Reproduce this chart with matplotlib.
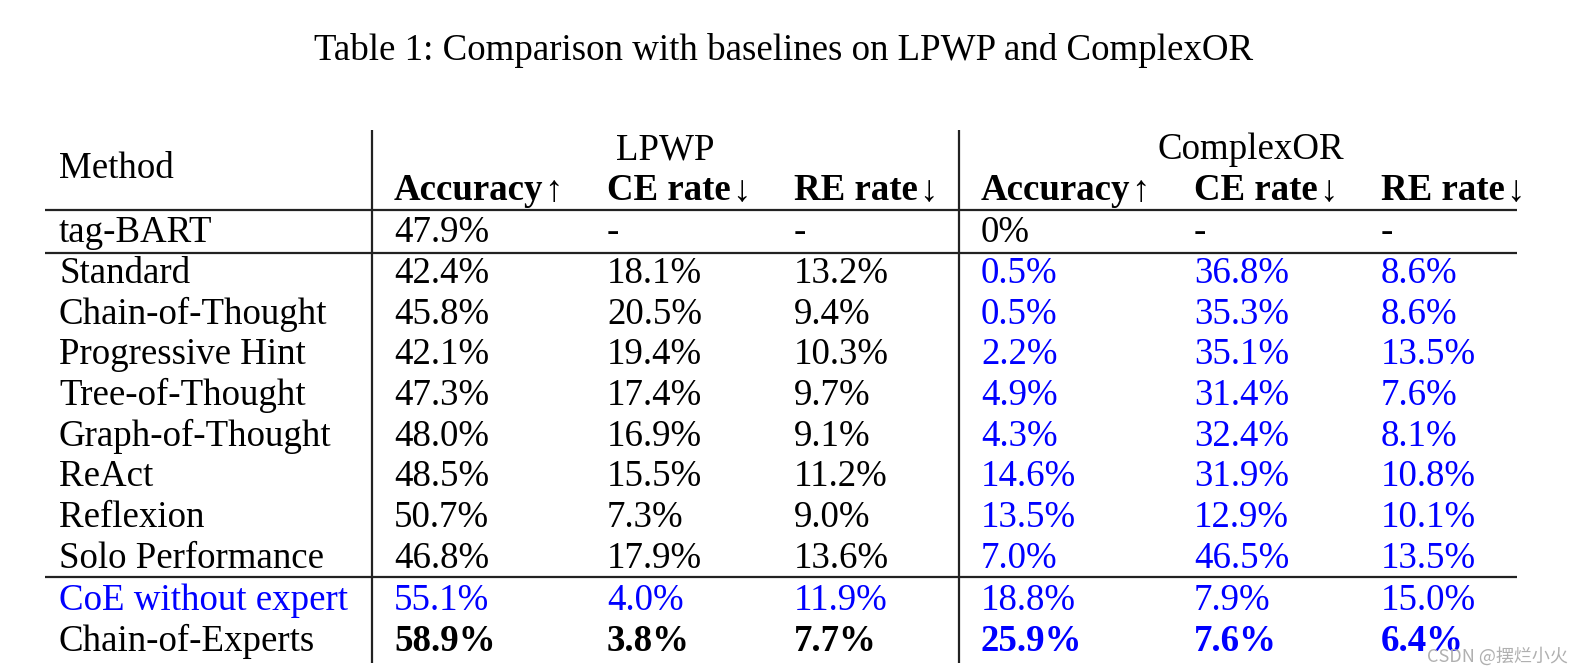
import matplotlib
matplotlib.use("Agg")
import matplotlib.pyplot as plt

# table contents
methods = ["tag-BART", "Standard", "Chain-of-Thought", "Progressive Hint",
           "Tree-of-Thought", "Graph-of-Thought", "ReAct", "Reflexion",
           "Solo Performance", "CoE without expert", "Chain-of-Experts"]
lpwp_acc = ["47.9%", "42.4%", "45.8%", "42.1%", "47.3%", "48.0%", "48.5%", "50.7%", "46.8%", "55.1%", "58.9%"]
lpwp_ce  = ["-", "18.1%", "20.5%", "19.4%", "17.4%", "16.9%", "15.5%", "7.3%", "17.9%", "4.0%", "3.8%"]
lpwp_re  = ["-", "13.2%", "9.4%", "10.3%", "9.7%", "9.1%", "11.2%", "9.0%", "13.6%", "11.9%", "7.7%"]
cor_acc  = ["0%", "0.5%", "0.5%", "2.2%", "4.9%", "4.3%", "14.6%", "13.5%", "7.0%", "18.8%", "25.9%"]
cor_ce   = ["-", "36.8%", "35.3%", "35.1%", "31.4%", "32.4%", "31.9%", "12.9%", "46.5%", "7.9%", "7.6%"]
cor_re   = ["-", "8.6%", "8.6%", "13.5%", "7.6%", "8.1%", "10.8%", "10.1%", "13.5%", "15.0%", "6.4%"]
groups = ["LPWP", "ComplexOR"]
metrics = ["Accuracy", "CE rate", "RE rate"]
arrows = ["\u2191", "\u2193", "\u2193"]

title = "Table 1: Comparison with baselines on LPWP and ComplexOR"
BLUE = "#0000ff"
SERIF = ["Liberation Serif", "DejaVu Serif"]
FS = 26.6

fig = plt.figure(figsize=(15.75, 6.71), dpi=100)
ax = fig.add_axes([0, 0, 1, 1])
ax.set_xlim(0, 1575)
ax.set_ylim(671, 0)
ax.axis("off")

col_x = [59, 394, 607, 794, 981, 1194, 1381]
row_y0, row_dy = 233, 40.7
row_y = [row_y0 + i * row_dy for i in range(len(methods))]
row_y[-2] += 1.5
row_y[-1] += 1.5

ax.text(784, 50, title, ha="center", va="center", fontsize=FS, family=SERIF)

# header
ax.text(col_x[0], 169, "Method", ha="left", va="center", fontsize=FS, family=SERIF)
ax.text(665, 150, groups[0], ha="center", va="center", fontsize=FS, family=SERIF)
ax.text(1251, 150, groups[1], ha="center", va="center", fontsize=FS, family=SERIF)

sub = []
for k in range(6):
    t = ax.text(col_x[k + 1], 191, metrics[k % 3], ha="left", va="center",
                fontsize=FS, family=SERIF, fontweight="bold")
    sub.append(t)

# rules
lw = 1.6
ax.vlines([372, 959], 130, 663, color="#222222", lw=lw)
ax.hlines([210, 253, 577], 45, 1517, color="#222222", lw=lw)

cols = [lpwp_acc, lpwp_ce, lpwp_re, cor_acc, cor_ce, cor_re]
n = len(methods)
for i in range(n):
    name_color = BLUE if methods[i] == "CoE without expert" else "black"
    ax.text(col_x[0], row_y[i], methods[i], ha="left", va="center",
            fontsize=FS, family=SERIF, color=name_color)
    for j, col in enumerate(cols):
        color = "black"
        if j >= 3 and 1 <= i:
            color = BLUE
        if methods[i] == "CoE without expert":
            color = BLUE
        weight = "bold" if methods[i] == "Chain-of-Experts" else "normal"
        ax.text(col_x[j + 1], row_y[i], col[i], ha="left", va="center",
                fontsize=FS, family=SERIF, color=color, fontweight=weight)

# arrows after bold metric names
fig.canvas.draw()
r = fig.canvas.get_renderer()
inv = ax.transData.inverted()
for k, t in enumerate(sub):
    bb = t.get_window_extent(renderer=r)
    x_end = inv.transform((bb.x1, bb.y0))[0]
    ax.text(x_end + 1, 192, arrows[k % 3], ha="left", va="center",
            fontsize=FS, family=SERIF)

ax.text(1568, 656, "CSDN @摆烂小火", ha="right", va="center", fontsize=13,
        color="#b0b0b0", family=["Noto Sans CJK SC", "DejaVu Sans"])

fig.savefig("out.png", dpi=100)
